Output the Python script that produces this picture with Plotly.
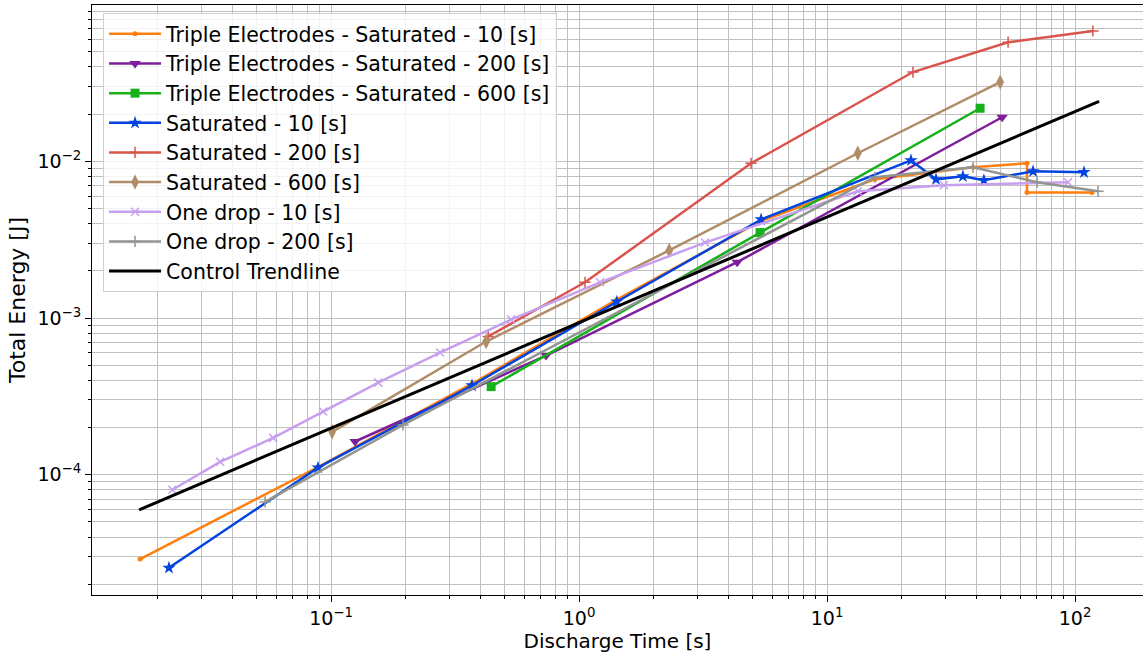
import plotly.graph_objects as go

# ---- data ----
te10_x = [0.01698, 0.0886, 0.370, 1.42, 5.37, 15.6, 38.8, 64.0, 64.0, 117]
te10_y = [2.90e-5, 1.12e-4, 3.81e-4, 1.31e-3, 4.14e-3, 7.67e-3, 9.16e-3, 9.71e-3, 6.33e-3, 6.33e-3]

te200_x = [0.125, 0.736, 4.34, 50.8]
te200_y = [1.63e-4, 5.76e-4, 2.27e-3, 0.0191]

te600_x = [0.442, 5.37, 41.4]
te600_y = [3.65e-4, 3.51e-3, 0.0218]

sat10_x = [0.0222, 0.0886, 0.370, 1.42, 5.42, 21.8, 27.5, 35.3, 42.9, 67.7, 108.7]
sat10_y = [2.55e-5, 1.11e-4, 3.71e-4, 1.27e-3, 4.25e-3, 0.01014, 7.67e-3, 8.02e-3, 7.57e-3, 8.63e-3, 8.51e-3]

sat200_x = [0.430, 1.057, 4.94, 22.2, 53.7, 118]
sat200_y = [7.62e-4, 1.69e-3, 9.71e-3, 0.0371, 0.0575, 0.0678]

sat600_x = [0.101, 0.422, 2.31, 13.3, 49.9]
sat600_y = [1.88e-4, 7.08e-4, 2.70e-3, 0.01125, 0.032]

od10_x = [0.0229, 0.0357, 0.0584, 0.0929, 0.155, 0.275, 0.532, 1.215, 3.22, 13.3, 29.6, 93.7]
od10_y = [8.02e-5, 1.21e-4, 1.72e-4, 2.53e-4, 3.87e-4, 6.02e-4, 9.78e-4, 1.69e-3, 3.03e-3, 6.43e-3, 7.03e-3, 7.35e-3]

od200_x = [0.0542, 0.195, 15.6, 38.8, 70.3, 123.8]
od200_y = [6.71e-5, 2.08e-4, 7.91e-3, 9.16e-3, 7.35e-3, 6.43e-3]

ctrl_x = [0.01682, 125]
ctrl_y = [5.97e-5, 0.02415]

x_major = [0.1, 1, 10, 100]
x_major_text = ["10<sup>\u22121</sup>", "10<sup>0</sup>", "10<sup>1</sup>", "10<sup>2</sup>"]
y_major = [1e-4, 1e-3, 1e-2]
y_major_text = ["10<sup>\u22124</sup>", "10<sup>\u22123</sup>", "10<sup>\u22122</sup>"]

series = [
    ("Triple Electrodes - Saturated - 10 [s]", te10_x, te10_y, "#ff7f0e", "circle", 5),
    ("Triple Electrodes - Saturated - 200 [s]", te200_x, te200_y, "#7e1e9c", "triangle-down", 10),
    ("Triple Electrodes - Saturated - 600 [s]", te600_x, te600_y, "#15b01a", "square", 9),
    ("Saturated - 10 [s]", sat10_x, sat10_y, "#0343df", "star", 10),
    ("Saturated - 200 [s]", sat200_x, sat200_y, "#d9544d", "cross-thin", 8),
    ("Saturated - 600 [s]", sat600_x, sat600_y, "#b08c68", "diamond-tall", 11),
    ("One drop - 10 [s]", od10_x, od10_y, "#c79fef", "x-thin", 8),
    ("One drop - 200 [s]", od200_x, od200_y, "#929591", "cross-thin", 8),
]

fig = go.Figure()
for i, (name, xs, ys, col, sym, sz) in enumerate(series):
    thin = sym.endswith("-thin")
    fig.add_trace(go.Scatter(
        x=xs, y=ys, name=name, mode="lines+markers",
        line=dict(color=col, width=2.5),
        marker=dict(symbol=sym, size=sz, color=col,
                    line=dict(color=col, width=1.5 if thin else 0)),
    ))
fig.add_trace(go.Scatter(x=ctrl_x, y=ctrl_y, name="Control Trendline", mode="lines",
                         line=dict(color="black", width=3)))

minor_x = [k * 10.0 ** e for e in range(-2, 3) for k in range(2, 10)]
minor_y = [k * 10.0 ** e for e in range(-5, -1) for k in range(2, 10)]

grid_col = "#c0c0c0"
font_main = "DejaVu Sans"

fig.update_layout(
    width=1143, height=653,
    margin=dict(l=92, r=0, t=5, b=58),
    paper_bgcolor="white", plot_bgcolor="white",
    font=dict(family=font_main, size=18, color="black"),
    showlegend=True,
    legend=dict(x=0.0105, y=0.9864, xanchor="left", yanchor="top",
                bgcolor="rgba(255,255,255,0.8)", bordercolor="#d0d0d0", borderwidth=1,
                font=dict(family=font_main, size=20.5),
                itemwidth=52),
    xaxis=dict(
        type="log", range=[-1.964, 2.274],
        tickvals=x_major, ticktext=x_major_text,
        showgrid=True, gridcolor=grid_col, gridwidth=1,
        showline=True, linecolor="black", linewidth=1, mirror=True,
        ticks="outside", ticklen=6, tickcolor="black",
        minor=dict(tickvals=minor_x, showgrid=True, gridcolor=grid_col, gridwidth=1,
                   ticks="outside", ticklen=3, tickcolor="black"),
        title=dict(text="Discharge Time [s]", font=dict(size=20), standoff=4),
        tickfont=dict(size=19),
        zeroline=False,
    ),
    yaxis=dict(
        type="log", range=[-4.767, -1.003],
        tickvals=y_major, ticktext=y_major_text,
        showgrid=True, gridcolor=grid_col, gridwidth=1,
        showline=True, linecolor="black", linewidth=1, mirror=True,
        ticks="outside", ticklen=6, tickcolor="black",
        minor=dict(tickvals=minor_y, showgrid=True, gridcolor=grid_col, gridwidth=1,
                   ticks="outside", ticklen=3, tickcolor="black"),
        title=dict(text="Total Energy [J]", font=dict(size=22), standoff=5),
        tickfont=dict(size=19),
        zeroline=False,
    ),
)

fig.write_html("out.html")
